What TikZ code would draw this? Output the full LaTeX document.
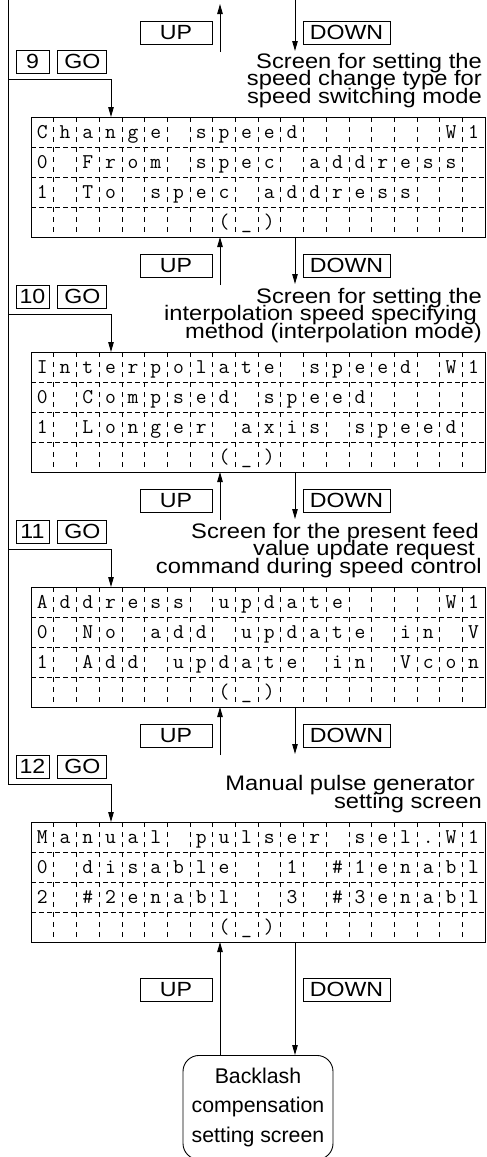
\documentclass[tikz,border=0pt]{standalone}
\usepackage{fontspec}
\setmainfont{Liberation Sans}
\newfontfamily\notefont[FakeStretch=1.13]{Liberation Sans}
\usetikzlibrary{arrows.meta,positioning}

% one row of the display: one character per cell
\newcommand{\lcdrow}[3]{%
  \foreach \ch [count=\i from 0] in {#3}
    \node[lcdchar] (#1-\i) at ({31+22.7*(\i+0.5)},#2) {\ch};}
% lets caption lines sit closer than their glyphs allow
\newcommand{\tightlines}{\lineskiplimit=-50pt\relax}

\begin{document}
\begin{tikzpicture}[x=1pt,y=-1pt,
    wire/.style={line width=0.9pt},
    flow/.style={wire,-{Triangle[length=10pt,width=5.5pt]}},
    keybox/.style={draw,wire,minimum height=23pt,inner sep=0pt,font=\notefont\fontsize{20.5}{20.5}\selectfont},
    note/.style={align=right,anchor=south east,inner sep=0pt,
      font=\notefont\fontsize{21}{17.5}\selectfont\tightlines},
    screen/.style={draw,wire,minimum width=454pt,minimum height=120pt,anchor=north west,inner sep=0pt},
    cellsep/.style={line width=0.6pt,dash pattern=on 5pt off 5pt},
    rowsep/.style={line width=0.6pt,dash pattern=on 5pt off 3pt},
    lcdchar/.style={anchor=base,inner sep=0pt,font=\ttfamily\fontsize{21}{21}\selectfont}]
  \useasboundingbox (0,0) rectangle (487,1157);

  % the four display screens
  \foreach \k/\T in {1/117,2/352,3/587,4/822}{
    \foreach \i in {1,...,19}
      \draw[cellsep] ({31+22.7*\i},\T) -- ++(0,120);
    \foreach \j in {1,2,3}
      \draw[rowsep] (31,{\T+30*\j}) -- ++(454,0);
    \node[screen] (s\k) at (31,\T) {};
    \node[lcdchar] (s\k-l) at ({31+22.7*8.5},{\T+111}) {(};
    \node[lcdchar] (s\k-u) at ({31+22.7*9.5},{\T+111}) {\_};
    \node[lcdchar] (s\k-r) at ({31+22.7*10.5},{\T+111}) {)};
  }
  \lcdrow{s1a}{138}{C,h,a,n,g,e, ,s,p,e,e,d, , , , , , ,W,1}
  \lcdrow{s1b}{168}{0, ,F,r,o,m, ,s,p,e,c, ,a,d,d,r,e,s,s}
  \lcdrow{s1c}{198}{1, ,T,o, ,s,p,e,c, ,a,d,d,r,e,s,s}
  \lcdrow{s2a}{373}{I,n,t,e,r,p,o,l,a,t,e, ,s,p,e,e,d, ,W,1}
  \lcdrow{s2b}{403}{0, ,C,o,m,p,s,e,d, ,s,p,e,e,d}
  \lcdrow{s2c}{433}{1, ,L,o,n,g,e,r, ,a,x,i,s, ,s,p,e,e,d}
  \lcdrow{s3a}{608}{A,d,d,r,e,s,s, ,u,p,d,a,t,e, , , , ,W,1}
  \lcdrow{s3b}{638}{0, ,N,o, ,a,d,d, ,u,p,d,a,t,e, ,i,n, ,V}
  \lcdrow{s3c}{668}{1, ,A,d,d, ,u,p,d,a,t,e, ,i,n, ,V,c,o,n}
  \lcdrow{s4a}{843}{M,a,n,u,a,l, ,p,u,l,s,e,r, ,s,e,l,.,W,1}
  \lcdrow{s4b}{873}{0, ,d,i,s,a,b,l,e, , ,1, ,\#,1,e,n,a,b,l}
  \lcdrow{s4c}{903}{2, ,\#,2,e,n,a,b,l, , ,3, ,\#,3,e,n,a,b,l}

  % number + GO keys and the branches from the left line
  \coordinate (top) at (8,0);
  \foreach \k/\T/\num in {1/117/9,2/352/10,3/587/11,4/822/12}{
    \node[keybox,minimum width=33pt] (n\k) at (32.5,{\T-55.5}) {\num};
    \node[keybox,minimum width=49pt,right=8pt of n\k] (go\k) {GO};
    \coordinate (j\k) at (8,{\T-38});
    \coordinate (e\k) at (111,\T);
  }
  \foreach \k in {1,2,3}
    \draw[flow] (j\k) -| (e\k);
  \draw[flow] (top) -- (j4) -| (e4);

  % UP / DOWN keys between the screens
  \foreach \k/\B/\S in {0/4/-5,1/237/237,2/472/472,3/707/707}{
    \node[keybox,minimum width=72pt] (up\k) at (176,{\B+28.5}) {UP};
    \node[keybox,minimum width=87pt] (dn\k) at (346.5,{\B+28.5}) {DOWN};
    \coordinate (ua\k) at (220,{\B+48});
    \coordinate (ub\k) at (220,\B);
    \coordinate (da\k) at (295,\S);
    \coordinate (db\k) at (295,{\B+47});
    \draw[flow] (ua\k) -- (ub\k);
    \draw[flow] (da\k) -- (db\k);
  }

  \node[note] (c1) at (482,108) {Screen for setting the\\speed change type for\\speed switching mode};
  \node[note] (c2) at (482,343) {Screen for setting the\\interpolation speed specifying\kern5pt\\method (interpolation mode)};
  \node[note] (c3) at (482,578) {Screen for the present feed\kern3pt\\value update request\kern7pt\\command during speed control};
  \node[note] (c4) at (482,813) {Manual pulse generator\kern7pt\\setting screen};

  % last screen down to the backlash screen
  \node[keybox,minimum width=72pt] (up4) at (176,989.5) {UP};
  \node[keybox,minimum width=87pt] (dn4) at (346.5,989.5) {DOWN};
  \node[draw,wire,rounded corners=16pt,minimum width=150pt,minimum height=104pt,
    anchor=north,align=center,font=\fontsize{21.3}{29.5}\selectfont] (bl) at (258,1055)
    {Backlash\\compensation\\setting screen};
  \coordinate (ua4) at (220,1055);
  \coordinate (ub4) at (220,942);
  \coordinate (da4) at (295,942);
  \coordinate (db4) at (295,1055);
  \draw[flow] (ua4) -- (ub4);
  \draw[flow] (da4) -- (db4);
\end{tikzpicture}
\end{document}
